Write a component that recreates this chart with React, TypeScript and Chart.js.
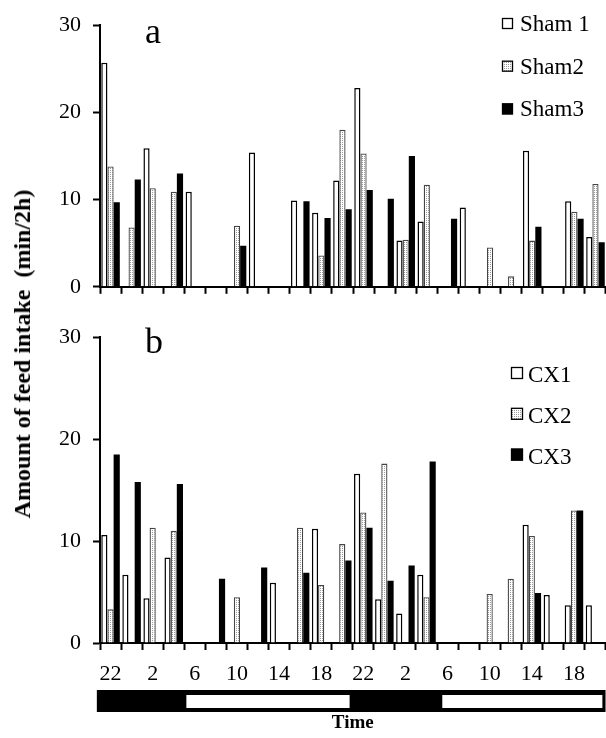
import React, { useEffect, useRef } from 'react';
import { Chart, registerables } from 'chart.js';

Chart.register(...registerables);

// ---- data ----
const binHours = [22, 0, 2, 4, 6, 8, 10, 12, 14, 16, 18, 20, 22, 0, 2, 4, 6, 8, 10, 12, 14, 16, 18, 20];
const tickLabels = ['22', '', '2', '', '6', '', '10', '', '14', '', '18', '', '22', '', '2', '', '6', '', '10', '', '14', '', '18', ''];

const sham1 = [25.7, 0, 15.9, 0, 10.9, 0, 0, 15.4, 0, 9.9, 8.5, 12.2, 22.8, 0, 5.3, 7.5, 0, 9.1, 0, 0, 15.6, 0, 9.8, 5.7];
const sham2 = [13.8, 6.8, 11.3, 10.9, 0, 0, 7.0, 0, 0, 0, 3.6, 18.0, 15.3, 0, 5.4, 11.7, 0, 0, 4.5, 1.2, 5.3, 0, 8.6, 11.8];
const sham3 = [9.7, 12.3, 0, 13.0, 0, 0, 4.7, 0, 0, 9.8, 7.9, 8.9, 11.1, 10.1, 15.0, 0, 7.8, 0, 0, 0, 6.9, 0, 7.8, 5.1];

const cx1 = [10.6, 6.7, 4.4, 8.4, 0, 0, 0, 0, 5.9, 0, 11.2, 0, 16.6, 4.3, 2.9, 6.7, 0, 0, 0, 0, 11.6, 4.7, 3.7, 3.7];
const cx2 = [3.3, 0, 11.3, 11.0, 0, 0, 4.5, 0, 0, 11.3, 5.7, 9.7, 12.8, 17.6, 0, 4.5, 0, 0, 4.8, 6.3, 10.5, 0, 13.0, 0];
const cx3 = [18.5, 15.8, 0, 15.6, 0, 6.3, 0, 7.4, 0, 6.9, 0, 8.1, 11.3, 6.1, 7.6, 17.8, 0, 0, 0, 0, 4.9, 0, 13.0, 0];

// hours elapsed since 22:00 of the first bin
const darkSpan = [-0.3, 48];
const lightPeriods = [[8.2, 23.7], [32.5, 47.7]];

const SERIF = '"Liberation Serif", "Times New Roman", serif';

function makeDots(): CanvasPattern | string {
  const c = document.createElement('canvas');
  c.width = 2;
  c.height = 2;
  const g = c.getContext('2d');
  if (!g) return '#ddd';
  g.fillStyle = '#fff';
  g.fillRect(0, 0, 2, 2);
  g.fillStyle = '#9a9a9a';
  g.fillRect(0, 0, 1, 1);
  return g.createPattern(c, 'repeat') || '#ddd';
}

const decorPlugin = {
  id: 'decor',
  afterDraw(chart: any, _args: any, opts: any) {
    const ctx = chart.ctx as CanvasRenderingContext2D;
    ctx.save();
    ctx.fillStyle = '#000';
    ctx.textBaseline = 'alphabetic';
    ctx.textAlign = 'left';
    ctx.font = `36px ${SERIF}`;
    ctx.fillText(opts.letter, opts.letterX, opts.letterY);
    ctx.font = `23px ${SERIF}`;
    chart.data.datasets.forEach((ds: any, i: number) => {
      const sy = opts.swatchTop + i * opts.gap;
      ctx.fillStyle = ds.backgroundColor;
      ctx.fillRect(opts.swatchX, sy, opts.swatch, opts.swatch);
      ctx.strokeStyle = '#000';
      ctx.lineWidth = 1.3;
      ctx.strokeRect(opts.swatchX + 0.5, sy + 0.5, opts.swatch - 1, opts.swatch - 1);
      ctx.fillStyle = '#000';
      ctx.fillText(ds.label, opts.textX, opts.textBase + i * opts.gap);
    });
    ctx.restore();
  },
};

const lightBarPlugin = {
  id: 'lightBar',
  afterDraw(chart: any, _args: any, opts: any) {
    if (!opts || !opts.show) return;
    const x = chart.scales.x;
    const ctx = chart.ctx as CanvasRenderingContext2D;
    const bw = (x.right - x.left) / binHours.length;
    const px = (h: number) => x.left + (h / 2) * bw;
    const top = x.top + 47;
    ctx.save();
    ctx.fillStyle = '#000';
    ctx.fillRect(px(darkSpan[0]), top, px(darkSpan[1]) - px(darkSpan[0]), 22);
    ctx.fillStyle = '#fff';
    for (const [a, b] of lightPeriods) {
      ctx.fillRect(px(a), top + 5, px(b) - px(a), 13);
    }
    ctx.restore();
  },
};

function buildConfig(
  names: string[],
  series: number[][],
  pattern: CanvasPattern | string,
  opts: { padTop: number; xHeight: number; showLabels: boolean; decor: any }
): any {
  const fills = ['#ffffff', pattern, '#000000'];
  const borders = ['#000000', '#444444', '#000000'];
  const widths = [1.5, 1.3, 0];
  return {
    type: 'bar',
    data: {
      labels: binHours.map((h) => String(h)),
      datasets: series.map((d, i) => ({
        label: names[i],
        data: d,
        backgroundColor: fills[i],
        borderColor: borders[i],
        borderWidth: widths[i],
        categoryPercentage: 0.88,
        barPercentage: 1.0,
      })),
    },
    options: {
      responsive: false,
      animation: false,
      layout: { padding: { top: opts.padTop, left: 0, right: 0, bottom: 0 } },
      plugins: {
        legend: { display: false },
        tooltip: { enabled: false },
        decor: opts.decor,
        lightBar: { show: opts.showLabels },
      },
      scales: {
        x: {
          type: 'category',
          offset: true,
          grid: {
            offset: true,
            drawOnChartArea: false,
            drawTicks: true,
            tickLength: 7,
            tickWidth: 2,
            tickColor: '#000',
          },
          border: { display: true, color: '#000', width: 2 },
          ticks: {
            display: opts.showLabels,
            autoSkip: false,
            maxRotation: 0,
            minRotation: 0,
            padding: 11,
            color: '#000',
            font: { family: SERIF, size: 22 },
            callback: (_v: any, i: number) => tickLabels[i],
          },
          title: {
            display: opts.showLabels,
            text: 'Time',
            color: '#000',
            font: { family: SERIF, size: 19, weight: 'bold' },
            padding: { top: 0, bottom: 4 },
          },
          afterFit: (s: any) => {
            s.height = opts.xHeight;
          },
        },
        y: {
          min: 0,
          max: 30,
          grid: {
            drawOnChartArea: false,
            drawTicks: true,
            tickLength: 7,
            tickWidth: 2,
            tickColor: '#000',
          },
          border: { display: true, color: '#000', width: 2 },
          ticks: {
            stepSize: 10,
            padding: 12,
            color: '#000',
            font: { family: SERIF, size: 22 },
          },
          afterFit: (s: any) => {
            s.width = 100;
          },
        },
      },
    },
    plugins: [decorPlugin, lightBarPlugin],
  };
}

export default function App() {
  const refA = useRef<HTMLCanvasElement>(null);
  const refB = useRef<HTMLCanvasElement>(null);

  useEffect(() => {
    const pattern = makeDots();
    const a = new Chart(
      refA.current as HTMLCanvasElement,
      buildConfig(['Sham 1', 'Sham2', 'Sham3'], [sham1, sham2, sham3], pattern, {
        padTop: 23,
        xHeight: 10,
        showLabels: false,
        decor: {
          letter: 'a', letterX: 145, letterY: 43,
          swatchX: 502, swatch: 11, swatchTop: 18, gap: 42.7,
          textX: 520, textBase: 31,
        },
      })
    );
    const b = new Chart(
      refB.current as HTMLCanvasElement,
      buildConfig(['CX1', 'CX2', 'CX3'], [cx1, cx2, cx3], pattern, {
        padTop: 21,
        xHeight: 95,
        showLabels: true,
        decor: {
          letter: 'b', letterX: 145, letterY: 41,
          swatchX: 511, swatch: 12, swatchTop: 55, gap: 40.8,
          textX: 528, textBase: 70,
        },
      })
    );
    return () => {
      a.destroy();
      b.destroy();
    };
  }, []);

  return (
    <div style={{ position: 'absolute', left: 0, top: 0, width: 606, height: 738, background: '#fff', overflow: 'hidden' }}>
      <canvas ref={refA} width={606} height={312} style={{ position: 'absolute', left: 0, top: 0 }} />
      <canvas ref={refB} width={606} height={426} style={{ position: 'absolute', left: 0, top: 312 }} />
      <div
        style={{
          position: 'absolute',
          left: 22,
          top: 354,
          transform: 'translate(-50%, -50%) rotate(-90deg)',
          whiteSpace: 'pre',
          font: `bold 24px ${SERIF}`,
          color: '#000',
          lineHeight: 1,
        }}
      >
        {'Amount of feed intake  (min/2h)'}
      </div>
    </div>
  );
}
